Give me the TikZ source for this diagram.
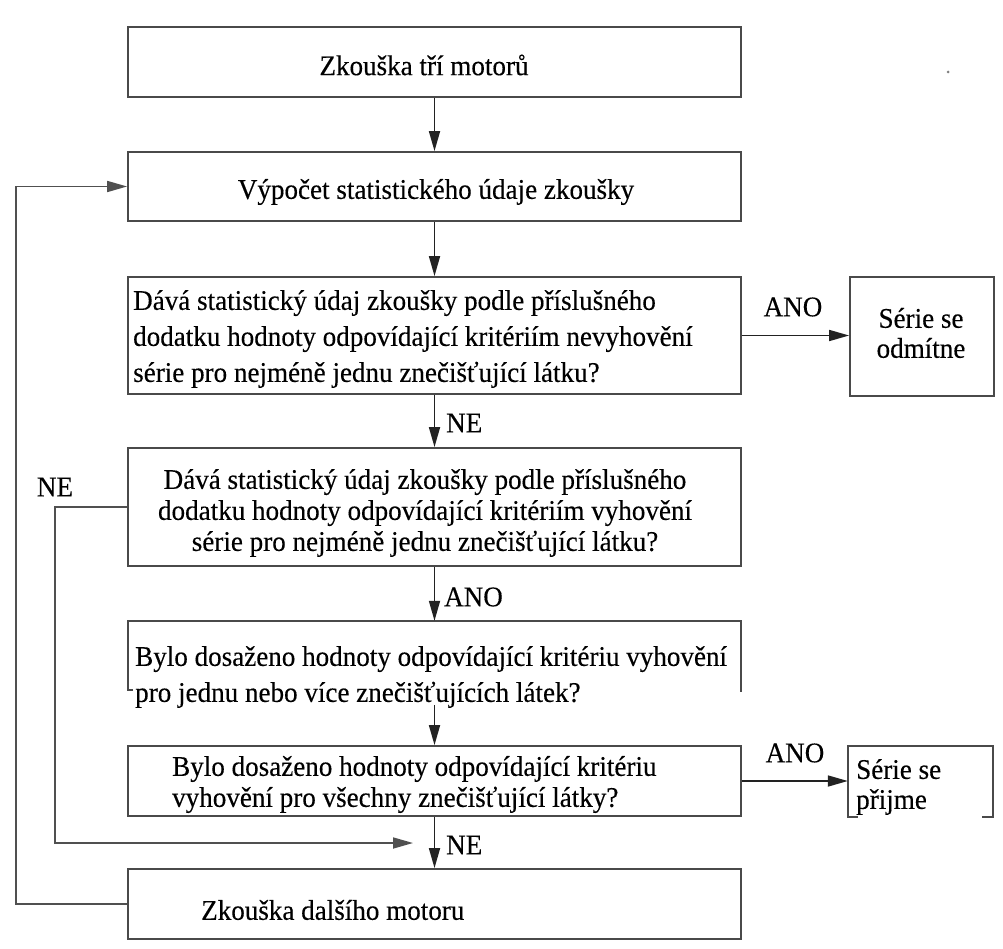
\documentclass[tikz,border=0pt]{standalone}
\usepackage{fontspec}
\setmainfont{Liberation Serif}[FakeStretch=0.95,FakeBold=0.3]
\usetikzlibrary{arrows.meta,calc}
\definecolor{bordc}{HTML}{4A4A4A}
\definecolor{arrc}{HTML}{222222}
\definecolor{loopc}{HTML}{505050}
\begin{document}
\begin{tikzpicture}[x=1pt,y=-1pt,
  box/.style={draw=bordc, line width=1.8pt, inner sep=0pt},
  openbox/.style={inner sep=0pt},
  bordl/.style={draw=bordc, line width=1.8pt},
  tx/.style={inner sep=0pt, align=left, font=\fontsize{28.5}{#1}\selectfont},
  tx/.default=36,
  txc/.style={inner sep=0pt, align=center, font=\fontsize{28.5}{#1}\selectfont},
  txc/.default=36,
  tip/.style={-{Triangle[length=20pt,width=11pt]}},
  arr/.style={draw=arrc, line width=1.7pt, tip},
  loopl/.style={draw=loopc, line width=1.7pt, tip},
  lbl/.style={inner sep=0pt, font=\fontsize{28.5}{32}\selectfont}]
\useasboundingbox (0,0) rectangle (1003,949);

% boxes
\node[box, minimum width=613pt, minimum height=70pt] (b1) at (434.5,62) {};
\node[box, minimum width=613pt, minimum height=69pt] (b2) at (434.5,186.5) {};
\node[box, minimum width=613pt, minimum height=117pt] (d1) at (434.5,335.5) {};
\node[box, minimum width=144pt, minimum height=119pt] (r1) at (922,336.5) {};
\node[box, minimum width=613pt, minimum height=118pt] (d2) at (434.5,507) {};
\node[openbox, minimum width=613pt, minimum height=84pt] (d3) at (434.5,663) {};
\draw[bordl] ($(d3.north west)+(5,69)$) -- ++(-5,0) -- (d3.north west) -- (d3.north east) -- ++(0,71);
\coordinate (d3out) at (434.5,705);
\node[box, minimum width=613pt, minimum height=70pt] (d4) at (434.5,781) {};
\node[openbox, minimum width=145pt, minimum height=71pt] (r2) at (920.5,781.5) {};
\draw[bordl] ($(r2.south west)+(10,0)$) -- (r2.south west) -- (r2.north west) -- (r2.north east) -- (r2.south east) -- ++(-11,0);
\node[box, minimum width=613pt, minimum height=70pt] (b9) at (434.5,904) {};

% texts
\node[txc] (b1t) at (424,65) {Zkouška tří motorů};
\node[txc] (b2t) at (436,192) {Výpočet statistického údaje zkoušky};
\node[tx=36, anchor=west] (d1t) at (133,339)
  {Dává statistický údaj zkoušky podle příslušného\\dodatku hodnoty odpovídající kritériím nevyhovění\\série pro nejméně jednu znečišťující látku?};
\node[txc=30] (r1t) at (921,333) {Série se\\odmítne};
\node[txc=31] (d2t) at (425,513)
  {Dává statistický údaj zkoušky podle příslušného\\dodatku hodnoty odpovídající kritériím vyhovění\\série pro nejméně jednu znečišťující látku?};
\node[tx=36, anchor=west] (d3t) at (135,677)
  {Bylo dosaženo hodnoty odpovídající kritériu vyhovění\\pro jednu nebo více znečišťujících látek?};
\node[tx=31, anchor=west] (d4t) at (172,784.5)
  {Bylo dosaženo hodnoty odpovídající kritériu\\vyhovění pro všechny znečišťující látky?};
\node[tx=30, anchor=west] (r2t) at (856,787) {Série se\\přijme};
\node[tx, anchor=west] (b9t) at (201,910) {Zkouška dalšího motoru};

% vertical flow
\draw[arr] (b1.south) -- (b2.north);
\draw[arr] (b2.south) -- (d1.north);
\draw[arr] (d1.south) -- (d2.north);
\draw[arr] (d2.south) -- (d3.north);
\draw[arr] (d3out) -- (d4.north);
\draw[arr] (d4.south) -- (b9.north);

% side branches
\draw[arr] (d1.east) -- (d1.east -| r1.west);
\draw[arr] (d4.east) -- (d4.east -| r2.west);

% loops
\coordinate (ne2in) at (413,843);
\draw[loopl] (d2.west) -- ++(-72,0) |- (ne2in);
\draw[loopl] (b9.west) -- ++(-111,0) |- (b2.west);

% labels
\node[lbl] (ano1) at (793,307) {ANO};
\node[lbl, anchor=west] (ne1) at (446,423) {NE};
\node[lbl] (ne2) at (55,487) {NE};
\node[lbl, anchor=west] (ano2) at (444,597) {ANO};
\node[lbl] (ano3) at (795,753) {ANO};
\node[lbl, anchor=west] (ne3) at (446,845) {NE};

% scan speck
\fill[gray] (948,72) circle[radius=1.5pt];
\end{tikzpicture}
\end{document}
